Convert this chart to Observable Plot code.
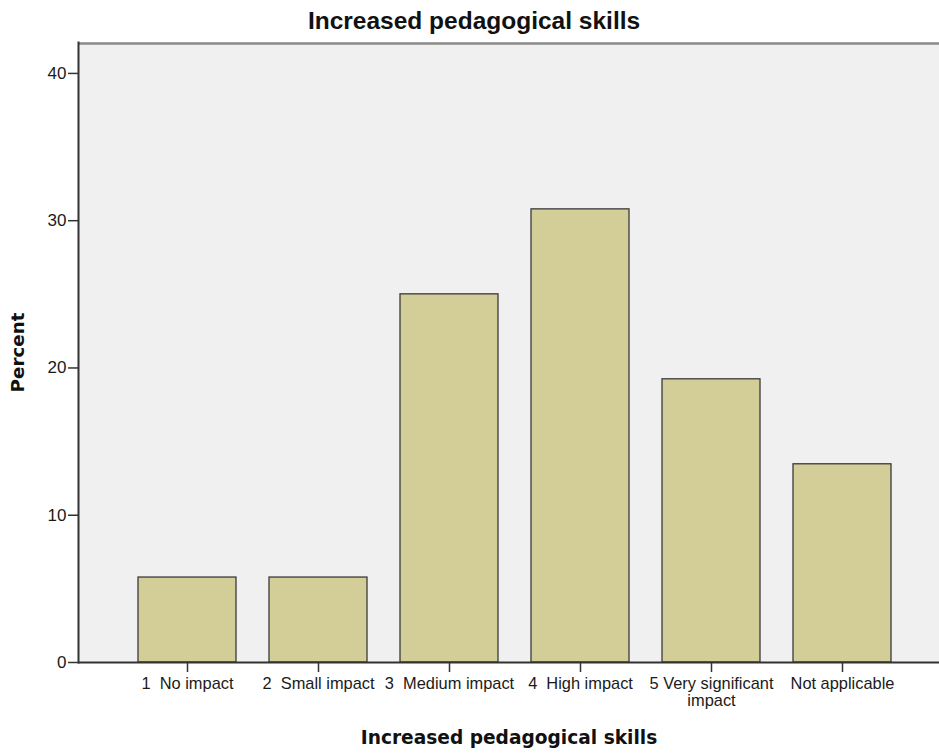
<!DOCTYPE html>
<html>
<head>
<meta charset="utf-8">
<script src="https://cdn.jsdelivr.net/npm/d3@7"></script>
<script src="https://cdn.jsdelivr.net/npm/@observablehq/plot@0.6"></script>
<style>
  html, body { margin: 0; padding: 0; background: #fff; }
  #chart svg { display: block; }
</style>
</head>
<body>
<div id="chart"></div>
<script>
const title = "Increased pedagogical skills";
const xLabel = "Increased pedagogical skills";
const yLabel = "Percent";
const categories = ["1 No impact", "2 Small impact", "3 Medium impact", "4 High impact", "5 Very significant impact", "Not applicable"];
const tickLabels = ["1\u00a0 No impact", "2\u00a0 Small impact", "3\u00a0 Medium impact", "4\u00a0 High impact", "5 Very significant\nimpact", "Not applicable"];
const percents = [5.77, 5.77, 25.0, 30.77, 19.23, 13.46];
const yTicks = [0, 10, 20, 30, 40];
const yMax = 42.1;

const data = categories.map((c, i) => ({category: c, percent: percents[i]}));
const labelOf = new Map(categories.map((c, i) => [c, tickLabels[i]]));

const W = 939, H = 753;
const chart = Plot.plot({
  width: W,
  height: H,
  marginLeft: 78,
  marginRight: 0,
  marginTop: 42,
  marginBottom: 91,
  style: {fontFamily: "'Liberation Sans', Arial, sans-serif", color: "#1a1a1a", background: "#fff"},
  x: {domain: categories, paddingInner: 0.2534, paddingOuter: 0.4065, align: 0.55},
  y: {domain: [0, yMax]},
  marks: [
    Plot.frame({fill: "#f0f0f0", stroke: null}),
    Plot.barY(data, {x: "category", y: "percent", fill: "#d3ce97", stroke: "#3a3a3a", strokeWidth: 1.3}),
    Plot.ruleY([yMax], {stroke: "#8a8a8a", strokeWidth: 2.5, dy: 1}),
    Plot.frame({anchor: "left", stroke: "#333", strokeWidth: 2}),
    Plot.ruleY([0], {stroke: "#333", strokeWidth: 2}),
    Plot.axisY({ticks: yTicks, tickSize: 10, tickPadding: 2, fontSize: 17, label: null, stroke: "#333", strokeWidth: 1.5}),
    Plot.axisX({tickSize: 10, tickPadding: 5, fontSize: 16.4, lineHeight: 1.0, label: null, tickFormat: d => labelOf.get(d), stroke: "#333", strokeWidth: 1.5}),
    Plot.text([title], {text: d => d, frameAnchor: "top", dx: -35, dy: -31, fontSize: 24.5, fontWeight: "bold", fill: "#111"}),
    Plot.text([yLabel], {text: d => d, frameAnchor: "left", textAnchor: "middle", rotate: -90, dx: -60, fontSize: 18.3, fontWeight: "bold", fontFamily: "'DejaVu Sans', sans-serif", fill: "#111"}),
    Plot.text([xLabel], {text: d => d, frameAnchor: "bottom", dy: 81, fontSize: 18.6, fontWeight: "bold", fontFamily: "'DejaVu Sans', sans-serif", fill: "#111"})
  ]
});
document.getElementById("chart").appendChild(chart);
</script>
</body>
</html>
